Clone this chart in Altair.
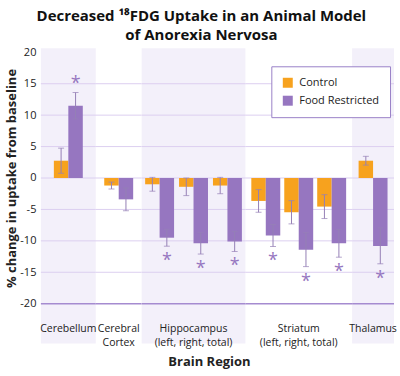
import altair as alt
import pandas as pd

# ---------------- data ----------------
region_names = ["Cerebellum", "Cerebral Cortex", "Hippocampus", "Striatum", "Thalamus"]
region_labels = ["Cerebellum", "Cerebral\nCortex", "Hippocampus\n(left, right, total)",
                 "Striatum\n(left, right, total)", "Thalamus"]
item_region = ["Cerebellum", "Cerebral Cortex", "Hippocampus", "Hippocampus", "Hippocampus",
               "Striatum", "Striatum", "Striatum", "Thalamus"]
item_part = ["all", "all", "left", "right", "total", "left", "right", "total", "all"]
series_names = ["Control", "Food Restricted"]
control_mean = [2.75, -1.2, -1.0, -1.4, -1.2, -3.65, -5.45, -4.55, 2.75]
control_err = [2.0, 0.55, 1.1, 1.4, 1.3, 1.8, 1.85, 1.9, 0.7]
restricted_mean = [11.5, -3.4, -9.5, -10.4, -10.1, -9.15, -11.4, -10.4, -10.8]
restricted_err = [2.1, 1.8, 1.35, 1.7, 1.6, 1.75, 2.7, 2.2, 2.85]
restricted_sig = [True, False, True, True, True, True, True, True, True]
y_ticks = [20, 15, 10, 5, 0, -5, -10, -15, -20]
grid_values = [15, 10, 5, 0, -5, -10, -15]
floor_value = [-20]
x_title = "Brain Region"
y_title = "% change in uptake from baseline"
title_lines = ["Decreased \u00b9\u2078FDG Uptake in an Animal Model", "of Anorexia Nervosa"]

# ---------------- styles ----------------
ORANGE = "#F7A21E"
PURPLE = "#9676C0"
ERR = "#9580B6"
BAND = "#F3F0FA"
GRID = "#DCCFF0"
FLOOR = "#A58BD0"
FONT = "Open Sans"
Y_MIN, Y_MAX = -26.35, 20.63
HEIGHT = 296
LABEL_Y = -24.1

layout = {
    "Cerebellum": dict(width=55, pi=0.0, po=0.448, shaded=True),
    "Cerebral Cortex": dict(width=46, pi=0.0, po=0.293, shaded=False),
    "Hippocampus": dict(width=104, pi=0.147, po=0.103, shaded=True),
    "Striatum": dict(width=107, pi=0.12, po=0.18, shaded=False),
    "Thalamus": dict(width=42, pi=0.0, po=0.224, shaded=True),
}

rows = []
for i in range(len(item_region)):
    item = item_region[i] + "-" + item_part[i]
    for s, m, e, sig in [("Control", control_mean[i], control_err[i], False),
                         ("Food Restricted", restricted_mean[i], restricted_err[i], restricted_sig[i])]:
        sign = 1 if m >= 0 else -1
        rows.append(dict(region=item_region[i], item=item, series=s, mean=m, err=e,
                         lo=m - e, hi=m + e, end=m + sign * e, sig=sig, pos=m >= 0))
df = pd.DataFrame(rows)
item_order = list(dict.fromkeys(df["item"]))
grid_df = pd.DataFrame({"v": grid_values})
floor_df = pd.DataFrame({"v": floor_value})

legend = alt.Legend(title=None, orient="none", legendX=231, legendY=18, symbolType="square",
                    symbolSize=100, symbolStrokeWidth=0, fillColor="white", strokeColor="#9A82C8",
                    padding=11, rowPadding=6, labelFontSize=11, labelFont=FONT, labelColor="#222",
                    symbolOffset=0, labelOffset=6, cornerRadius=0)
color = alt.Color("series:N", scale=alt.Scale(domain=series_names, range=[ORANGE, PURPLE]),
                  legend=legend)


def panel(idx):
    name = region_names[idx]
    L = layout[name]
    d = df[df.region == name]
    first = idx == 0
    if first:
        yaxis = alt.Axis(values=y_ticks, grid=False, ticks=False, domain=False, labelPadding=5,
                         labelFontSize=11, labelColor="#222", labelFont=FONT, labelOverlap=False,
                         labelExpr="'' + datum.value", title=y_title, titleFontSize=13,
                         titleFontWeight="bold", titleColor="#222", titleFont=FONT,
                         titleY=130, titlePadding=1)
    else:
        yaxis = None
    yscale = alt.Scale(domain=[Y_MIN, Y_MAX], nice=False, zero=False)

    def Y(field):
        return alt.Y(field, type="quantitative", scale=yscale, axis=yaxis, title=y_title)

    X = alt.X("item:N", sort=item_order,
              scale=alt.Scale(paddingInner=L["pi"], paddingOuter=L["po"]), axis=None)
    XO = alt.XOffset("series:N", sort=series_names,
                     scale=alt.Scale(paddingInner=0, paddingOuter=0))

    grid = alt.Chart(grid_df).mark_rule(color=GRID, strokeWidth=1).encode(y=Y("v"))
    floor = alt.Chart(floor_df).mark_rule(color=FLOOR, strokeWidth=1.5).encode(y=Y("v"))
    bars = alt.Chart(d).mark_bar().encode(x=X, xOffset=XO, y=Y("mean"), y2=alt.datum(0),
                                          color=color)
    ebar = alt.Chart(d).mark_rule(color=ERR, strokeWidth=1).encode(
        x=X, xOffset=XO, y=Y("lo"), y2="hi:Q")
    cap_lo = alt.Chart(d).mark_tick(color=ERR, thickness=1, size=6).encode(x=X, xOffset=XO, y=Y("lo"))
    cap_hi = alt.Chart(d).mark_tick(color=ERR, thickness=1, size=6).encode(x=X, xOffset=XO, y=Y("hi"))
    star_up = alt.Chart(d[d.sig & d.pos]).mark_text(
        text="*", color=PURPLE, fontSize=18, baseline="middle", dy=-9, font=FONT).encode(
        x=X, xOffset=XO, y=Y("end"))
    star_dn = alt.Chart(d[d.sig & ~d.pos]).mark_text(
        text="*", color=PURPLE, fontSize=18, baseline="middle", dy=15, font=FONT).encode(
        x=X, xOffset=XO, y=Y("end"))
    lab_df = pd.DataFrame({"label": [region_labels[idx]], "ly": [LABEL_Y]})
    lab = alt.Chart(lab_df).mark_text(
        lineBreak="\n", fontSize=10.5, baseline="middle", align="center", lineHeight=14,
        font=FONT, color="#222").encode(
        x=alt.value(L["width"] / 2), y=Y("ly"), text="label:N")
    layers = [grid, bars, ebar, cap_lo, cap_hi, star_up, star_dn, floor, lab]
    if name == "Hippocampus":
        xt = alt.Chart(pd.DataFrame({"t": [x_title]})).mark_text(
            fontSize=13, fontWeight="bold", font=FONT, color="#222", baseline="middle").encode(
            x=alt.value(68), y=alt.value(314), text="t:N")
        layers.append(xt)
    props = dict(width=L["width"], height=HEIGHT)
    if L["shaded"]:
        props["view"] = alt.ViewBackground(fill=BAND, stroke=None)
    else:
        props["view"] = alt.ViewBackground(stroke=None)
    return alt.layer(*layers).properties(**props)


chart = alt.hconcat(*[panel(i) for i in range(len(region_names))], spacing=0,
                    bounds="flush").properties(
    title=alt.TitleParams(text=title_lines, fontSize=15, fontWeight="bold", anchor="middle",
                          offset=3, lineHeight=19.5, color="#111", font=FONT),
    padding={"left": 5, "top": 8, "right": 3, "bottom": 2},
).resolve_scale(color="shared").configure_view(stroke=None).configure(font=FONT)

chart.save("out.html", embed_options={"renderer": "svg", "actions": False})
